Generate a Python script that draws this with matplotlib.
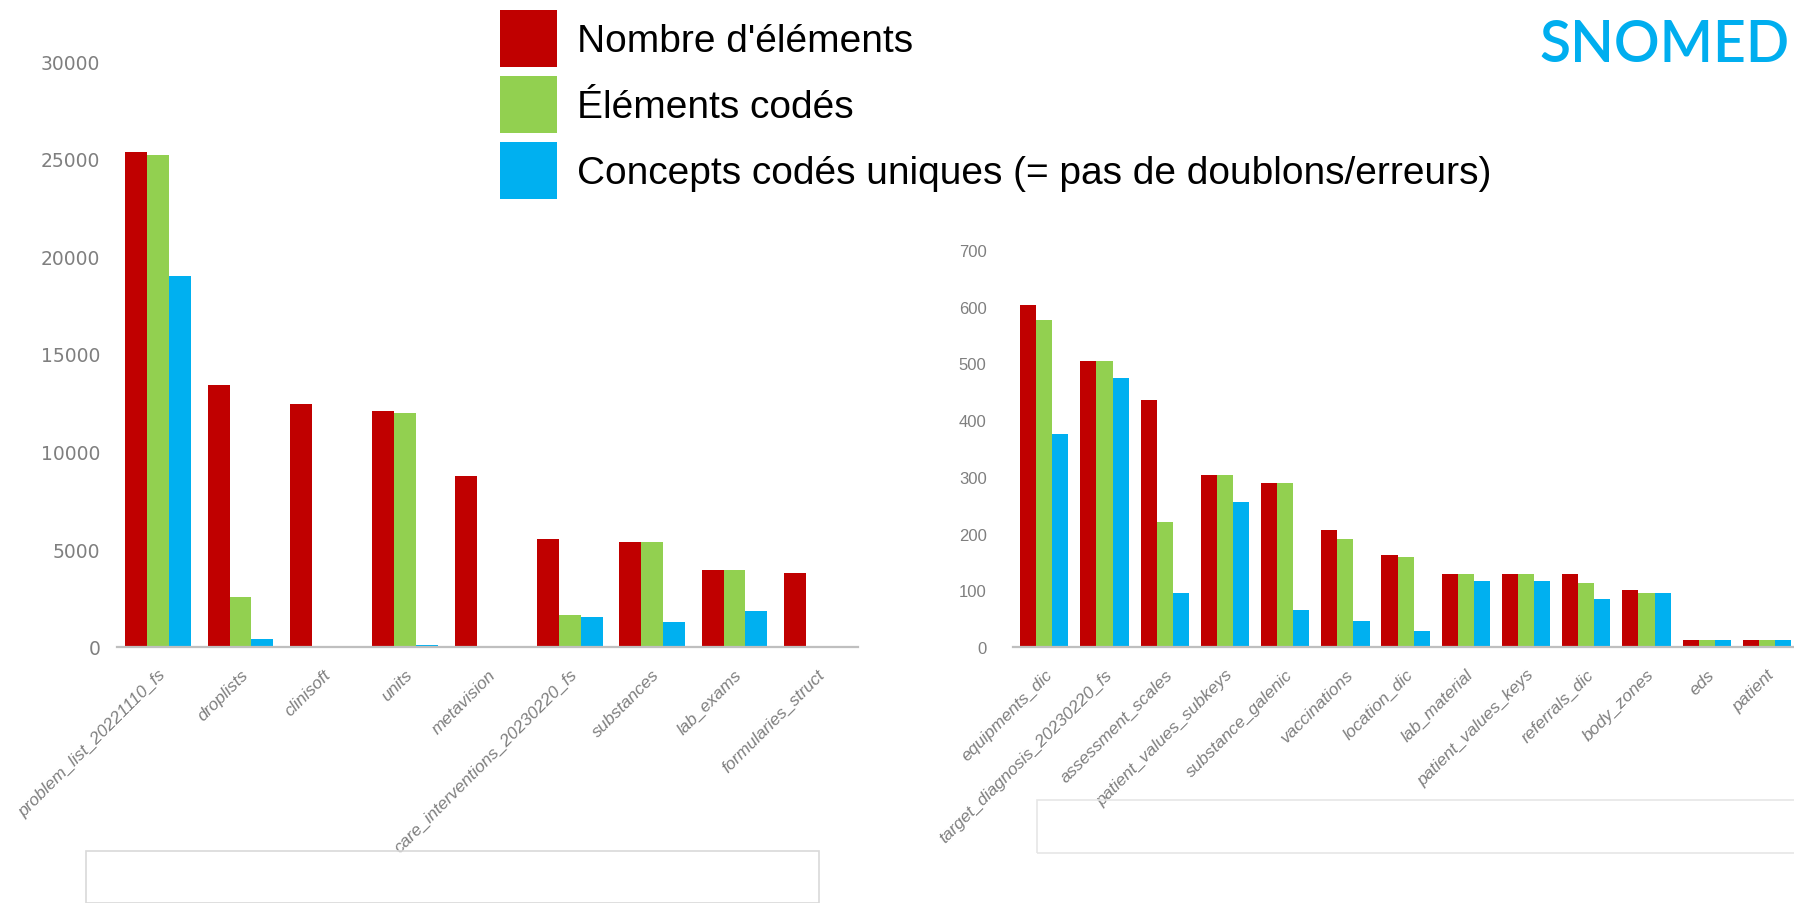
import numpy as np
import matplotlib
matplotlib.use("Agg")
import matplotlib.pyplot as plt
from matplotlib.patches import Patch, Rectangle

plt.rcParams["font.family"] = ["Liberation Sans", "DejaVu Sans"]

# ── Data ──────────────────────────────────────────────────────────────────────
series_names = ["Nombre d'éléments", "Éléments codés",
                "Concepts codés uniques (= pas de doublons/erreurs)"]
colors = ["#C00000", "#92D050", "#00B0F0"]

left_cats = ["problem_list_20221110_fs", "droplists", "clinisoft", "units",
             "metavision", "care_interventions_20230220_fs", "substances",
             "lab_exams", "formularies_struct"]
left_total = [25350, 13400, 12450, 12070, 8770, 5550, 5360, 3950, 3770]
left_coded = [25200, 2550, 0, 11980, 0, 1660, 5360, 3950, 60]
left_unique = [19000, 430, 0, 120, 0, 1520, 1280, 1860, 60]

right_cats = ["equipments_dic", "target_diagnosis_20230220_fs", "assessment_scales",
              "patient_values_subkeys", "substance_galenic", "vaccinations",
              "location_dic", "lab_material", "patient_values_keys",
              "referrals_dic", "body_zones", "eds", "patient"]
right_total = [603, 504, 436, 304, 290, 206, 162, 129, 129, 129, 100, 12, 12]
right_coded = [576, 504, 221, 304, 290, 190, 159, 129, 129, 112, 96, 12, 12]
right_unique = [376, 475, 96, 256, 66, 46, 29, 116, 116, 84, 96, 12, 12]

left_yticks = [0, 5000, 10000, 15000, 20000, 25000, 30000]
right_yticks = [0, 100, 200, 300, 400, 500, 600, 700]

W, H = 1794, 904
fig = plt.figure(figsize=(W / 100, H / 100), dpi=100)


def px_box(x0, y_top, x1, y_bot):
    return [x0 / W, 1 - y_bot / H, (x1 - x0) / W, (y_bot - y_top) / H]


def bar_panel(ax, cats, series, yticks, xlim, ypad, yfont):
    x = np.arange(len(cats))
    bw = 0.267
    for i, (vals, c) in enumerate(zip(series, colors)):
        ax.bar(x + (i - 1) * bw, vals, width=bw, color=c, linewidth=0)
    ax.set_xlim(*xlim)
    ax.set_ylim(yticks[0], yticks[-1])
    ax.set_yticks(yticks)
    ax.set_yticklabels([str(t) for t in yticks], color="#7F7F7F", **yfont)
    ax.set_xticks(x)
    ax.set_xticklabels(cats, rotation=45, ha="right", rotation_mode="anchor",
                       fontsize=12.5, color="#7F7F7F", style="italic")
    ax.tick_params(axis="both", length=0)
    ax.tick_params(axis="y", pad=ypad)
    ax.tick_params(axis="x", pad=14)
    for s in ["top", "right", "left"]:
        ax.spines[s].set_visible(False)
    ax.spines["bottom"].set_color("#BFBFBF")
    ax.spines["bottom"].set_linewidth(1.6)
    ax.set_facecolor("none")


ax1 = fig.add_axes(px_box(117, 62, 858, 648))
bar_panel(ax1, left_cats, [left_total, left_coded, left_unique],
          left_yticks, (-0.5, 8.5), 12,
          dict(fontsize=13.5, family="DejaVu Sans"))

ax2 = fig.add_axes(px_box(1013, 251, 1794, 648))
bar_panel(ax2, right_cats, [right_total, right_coded, right_unique],
          right_yticks, (-0.52, 12.45), 19,
          dict(fontsize=12))

# empty boxes below the charts
fig.add_artist(Rectangle((86 / W, 0), (819 - 86) / W, 1 - 852 / H,
                         transform=fig.transFigure, fill=False,
                         edgecolor="#D9D9D9", linewidth=1.2))
fig.add_artist(Rectangle((1037 / W, 1 - 854 / H), (1800 - 1037) / W, (854 - 801) / H,
                         transform=fig.transFigure, fill=False,
                         edgecolor="#E6E6E6", linewidth=1.2))

# legend
handles = [Patch(facecolor=c, edgecolor="none") for c in colors]
fig.legend(handles, series_names, loc="upper left",
           bbox_to_anchor=(500 / W, 1 - 11 / H), frameon=False,
           fontsize=28, handlelength=1.47, handleheight=1.876,
           labelspacing=0.23, handletextpad=0.5, borderpad=0, borderaxespad=0)

# logo text
fig.text(1790 / W, 1 - 62 / H, "SNOMED", fontsize=41, color="#00AEEF",
         family="Lato", fontweight="semibold", ha="right", va="baseline")

plt.savefig("out.png", dpi=100)
